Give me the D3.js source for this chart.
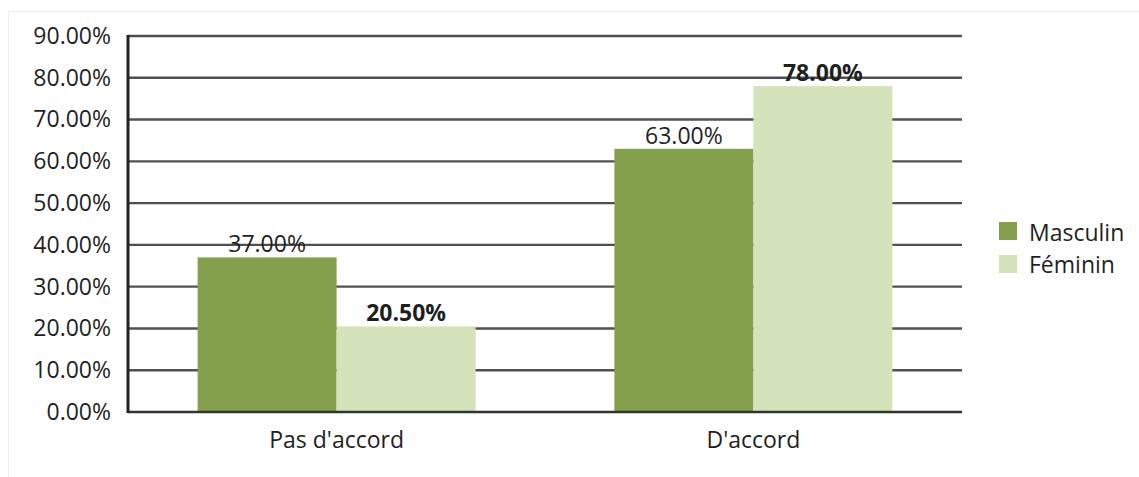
<!DOCTYPE html>
<html><head><meta charset="utf-8">
<script src="https://cdn.jsdelivr.net/npm/d3@7"></script>
<style>body{margin:0;background:#fff}svg{display:block}text{font-family:"Open Sans",sans-serif;fill:#1f1f1f}</style>
</head><body><svg id="c" width="1139" height="477"></svg>
<script>
const categories = ["Pas d'accord", "D'accord"];
const seriesNames = ["Masculin", "Féminin"];
const masculin = [0.37, 0.63];
const feminin = [0.205, 0.78];
const yTicks = [0, 0.1, 0.2, 0.3, 0.4, 0.5, 0.6, 0.7, 0.8, 0.9];
const boldLabel = [false, true];
const colors = ["#84a04c", "#d5e3ba"];

const svg = d3.select("#c");
const m = {l:128, r:962, t:36, b:412};
const fmt = d3.format(".2%");
const fs = 23;

// faint outer border
svg.append("path").attr("d","M8.5,477 V11.5 H1139").attr("fill","none").attr("stroke","#ececec").attr("stroke-width",1);

const x0 = d3.scaleBand().domain(categories).range([m.l, m.r]).paddingInner(0.333).paddingOuter(0.167);
const x1 = d3.scaleBand().domain(seriesNames).range([0, x0.bandwidth()]);
const y = d3.scaleLinear().domain([0, 0.9]).range([m.b, m.t]);

// gridlines
svg.append("g").selectAll("line").data(yTicks.filter(d=>d>0)).join("line")
  .attr("x1", m.l).attr("x2", m.r).attr("y1", d=>y(d)).attr("y2", d=>y(d))
  .attr("stroke", "#505050").attr("stroke-width", 2.4);

// y axis labels
const yAxis = d3.axisLeft(y).tickValues(yTicks).tickFormat(fmt).tickSize(0).tickPadding(17);
const ya = svg.append("g").attr("transform", `translate(${m.l},0)`).call(yAxis);
ya.select(".domain").remove();
ya.selectAll("text").attr("font-size", fs).attr("font-family", null).style("fill","#1f1f1f");

const data = seriesNames.map((s,i)=>({name:s, values: i===0?masculin:feminin}));

// bars
data.forEach((s,si)=>{
  svg.append("g").selectAll("rect").data(s.values).join("rect")
    .attr("x",(d,i)=>x0(categories[i])+x1(s.name))
    .attr("width", x1.bandwidth())
    .attr("y", d=>y(d)).attr("height", d=>y(0)-y(d))
    .attr("fill", colors[si]);
  svg.append("g").selectAll("text").data(s.values).join("text")
    .attr("x",(d,i)=>x0(categories[i])+x1(s.name)+x1.bandwidth()/2)
    .attr("y", d=>y(d)-5)
    .attr("text-anchor","middle").attr("font-size", fs)
    .attr("font-weight", boldLabel[si]?"bold":"normal")
    .text(d=>fmt(d));
});

// axes lines
svg.append("line").attr("x1",m.l).attr("x2",m.r).attr("y1",y(0)).attr("y2",y(0)).attr("stroke","#333").attr("stroke-width",2.5);
svg.append("line").attr("x1",m.l).attr("x2",m.l).attr("y1",m.t-1).attr("y2",y(0)+1).attr("stroke","#222").attr("stroke-width",3);

// x labels
const xAxis = d3.axisBottom(x0).tickSize(0).tickPadding(20);
const xa = svg.append("g").attr("transform",`translate(0,${m.b})`).call(xAxis);
xa.select(".domain").remove();
xa.selectAll("text").attr("font-size", fs).attr("font-family", null).style("fill","#1f1f1f");

// legend
const lg = svg.append("g");
seriesNames.forEach((s,i)=>{
  lg.append("rect").attr("x",999).attr("y",222+i*33).attr("width",18).attr("height",18).attr("fill",colors[i]);
  lg.append("text").attr("x",1029).attr("y",241+i*32).attr("font-size",fs).text(s);
});
</script></body></html>
